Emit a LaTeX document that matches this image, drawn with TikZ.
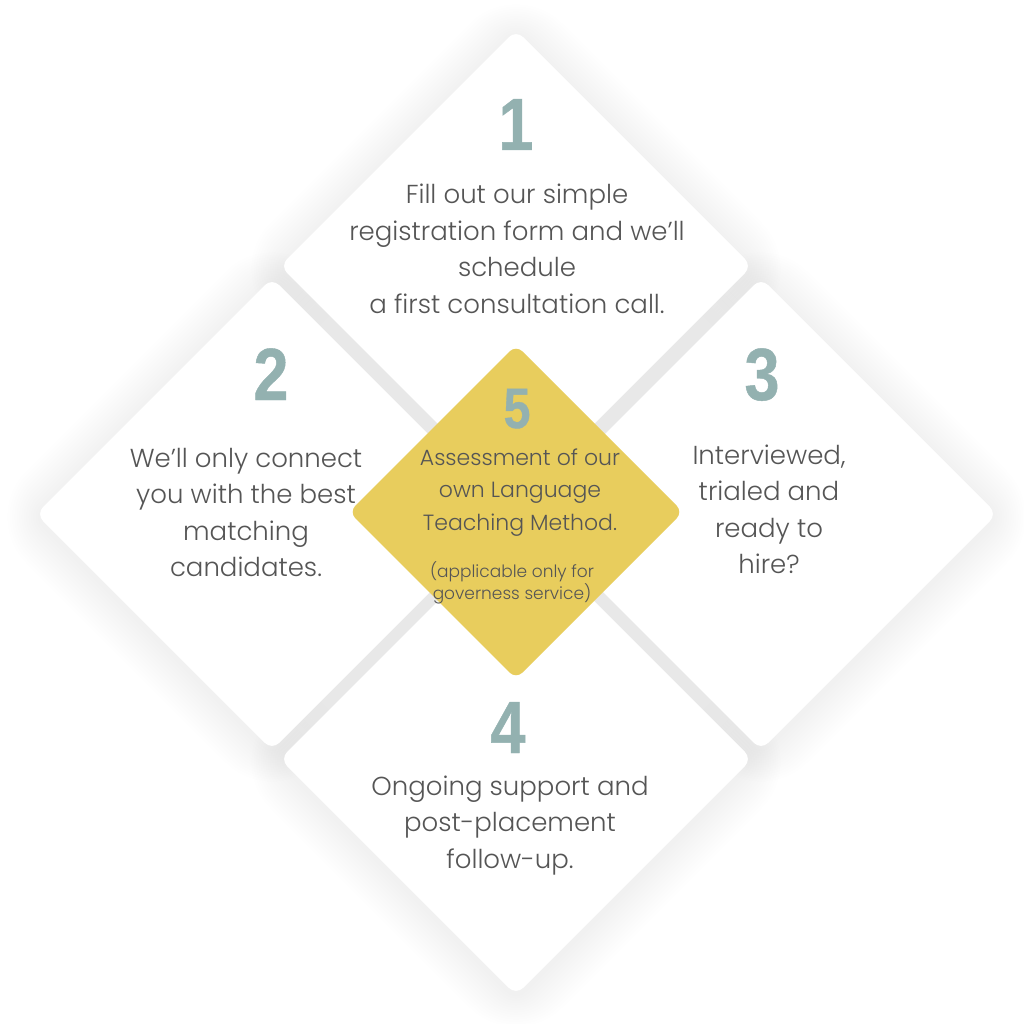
\documentclass[tikz,border=0pt]{standalone}
\usepackage{fontspec}
\setmainfont{Poppins}[UprightFont=* Light]
\newfontfamily\numfont{Liberation Sans Bold}[FakeStretch=0.85, FakeBold=0.6]
\definecolor{txt}{HTML}{555555}
\definecolor{numc}{HTML}{93B1B0}
\definecolor{ylw}{HTML}{E8CD5D}
\definecolor{gapg}{HTML}{E8E8E8}
\newcommand\mylines[1]{\begin{tabular}[t]{@{}c@{}}#1\end{tabular}}
\tikzset{
  card/.style={fill=white, rounded corners=10pt},
  numtxt/.style={text=numc, anchor=base, inner sep=0pt, font=\numfont\fontsize{74}{74}\selectfont},
  bodytxt/.style={text=txt, anchor=base, inner sep=0pt, font=\fontsize{26}{36.5}\selectfont},
}
\begin{document}
\begin{tikzpicture}[x=1pt,y=-1pt]
\useasboundingbox[fill=white] (0,0) rectangle (1024,1024);
\def\dmd#1#2#3{([shift={(#1,#2)}]-#3,0) -- ([shift={(#1,#2)}]0,-#3) -- ([shift={(#1,#2)}]#3,0) -- ([shift={(#1,#2)}]0,#3) -- cycle}
% soft outer shadows
\foreach \k in {1,...,14}{
  \pgfmathsetmacro\hh{236+4*\k}
  \pgfmathsetmacro\rr{10+4*\k}
  \fill[black, opacity=0.005, rounded corners=\rr pt] \dmd{516}{269}{\hh};
  \fill[black, opacity=0.005, rounded corners=\rr pt] \dmd{272}{517}{\hh};
  \fill[black, opacity=0.005, rounded corners=\rr pt] \dmd{761}{517}{\hh};
  \fill[black, opacity=0.005, rounded corners=\rr pt] \dmd{516}{762}{\hh};
}
% grey gap bands
\foreach \a in {45,-45}{
  \begin{scope}[shift={(516,513)}, rotate=\a]
    \fill[gapg] (-272,-16) rectangle (272,16);
    \foreach \i in {0,...,9}{
      \pgfmathsetmacro\op{1-(\i+0.5)/10}
      \pgfmathsetmacro\xa{272+6*\i}
      \pgfmathsetmacro\xb{278+6*\i}
      \fill[white, opacity=\op] (\xa,-16) rectangle (\xb,16);
      \fill[white, opacity=\op] (-\xa,-16) rectangle (-\xb,16);
      \fill[black, opacity=0.09*\op] (\xa,-16) rectangle (\xb,16);
      \fill[black, opacity=0.09*\op] (-\xa,-16) rectangle (-\xb,16);
    }
  \end{scope}
}
% cards
\path[card] \dmd{516}{266}{236};
\path[card] \dmd{272}{514}{236};
\path[card] \dmd{761}{514}{236};
\path[card] \dmd{516}{759}{236};
% centre
\path[fill=ylw, rounded corners=9pt] \dmd{516}{512}{167};
% texts
\node[numtxt] (n1) at (516,150) {1};
\node[bodytxt] (t1) at (517,204) {\mylines{Fill out our simple\\registration form and we’ll\\schedule\\a first consultation call.}};
\node[numtxt] (n2) at (271,400) {2};
\node[bodytxt] (t2) at (246,467) {\mylines{We’ll only connect\\you with the best\\matching\\candidates.}};
\node[numtxt] (n3) at (762,400) {3};
\node[bodytxt] (t3) at (769,464) {\mylines{Interviewed,\\trialed and\\ready to\\hire?}};
\node[numtxt] (n4) at (508,753) {4};
\node[bodytxt] (t4) at (510,795) {\mylines{Ongoing support and\\post-placement\\follow-up.}};
\node[numtxt, font=\numfont\fontsize{57}{57}\selectfont] (n5) at (517,428) {5};
\node[bodytxt, font=\fontsize{22}{32.5}\selectfont] (t5) at (520,465) {\mylines{Assessment of our\\own Language\\Teaching Method.}};
\node[bodytxt, font=\fontsize{17}{21}\selectfont] (t5b) at (512,577) {\mylines{(applicable only for\\governess service)}};
\end{tikzpicture}
\end{document}
